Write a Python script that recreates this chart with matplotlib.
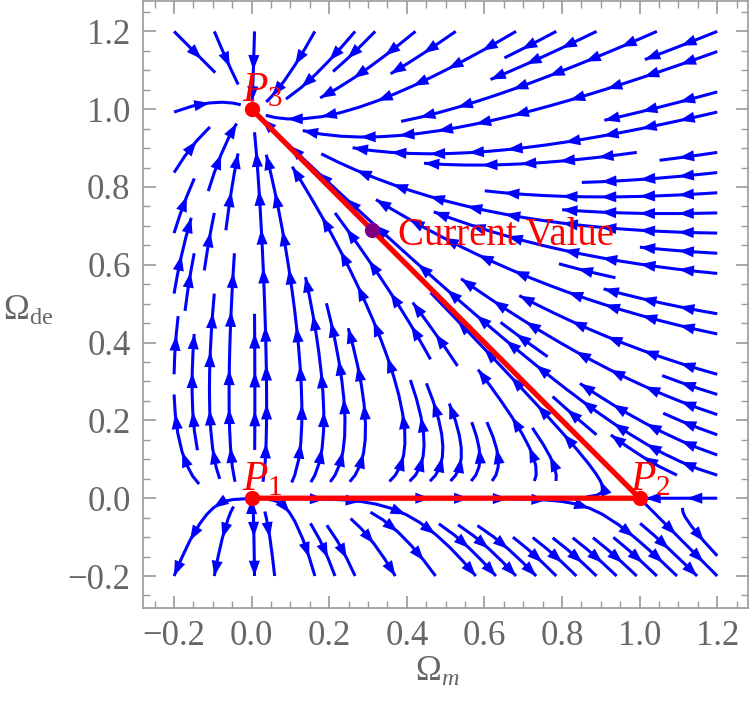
"""Phase portrait of the radiation / matter / dark-energy system"""
import numpy as np
import matplotlib.pyplot as plt
from matplotlib.patches import FancyArrowPatch

# fixed points and labels
fixed_names = ['$P_1$', '$P_2$', '$P_3$']
fixed_x = [0.0, 1.0, 0.0]
fixed_y = [0.0, 0.0, 1.0]
current_x, current_y = 0.31, 0.69
current_label = 'Current Value'
ticks = [-0.2, 0.0, 0.2, 0.4, 0.6, 0.8, 1.0, 1.2]


def flow(om, ode):
    # radiation fills the rest: Omega_r = 1 - Omega_m - Omega_de
    dm = om * (1 - om - 4 * ode)
    dde = ode * (4 - om - 4 * ode)
    return dm, dde


def chain(segs):
    """join streamplot segments back into whole lines (if they come split)"""
    segs = [np.asarray(sg) for sg in segs]
    if any(len(sg) > 2 for sg in segs):
        return segs
    lines, cur = [], [segs[0][0], segs[0][1]]
    for a, b in zip(segs[:-1], segs[1:]):
        if np.allclose(a[1], b[0]):
            cur.append(b[1])
        else:
            lines.append(np.array(cur))
            cur = [b[0], b[1]]
    lines.append(np.array(cur))
    return lines


plt.rcParams['font.family'] = ['Liberation Serif', 'DejaVu Serif']
plt.rcParams['mathtext.fontset'] = 'custom'
plt.rcParams['mathtext.rm'] = 'Liberation Serif'
plt.rcParams['mathtext.it'] = 'Liberation Serif:italic'

fig = plt.figure(figsize=(7.5, 7.11), dpi=100)
ax = fig.add_axes([0.1907, 0.145, 0.807, 0.853])

g = np.linspace(-0.2, 1.2, 200)
X, Y = np.meshgrid(g, g)
U, V = flow(X, Y)
sp = ax.streamplot(X, Y, U, V, density=0.95, color='#0000ff', linewidth=2.2,
                   arrowstyle='-', arrowsize=0.1)
for p in list(ax.patches):
    p.remove()

# Mathematica style: several arrowheads along each stream line
step = 0.11
for ln in chain(sp.lines.get_segments()):
    s = np.concatenate([[0], np.cumsum(np.hypot(*np.diff(ln, axis=0).T))])
    if s[-1] < 0.05:
        continue
    for pos in np.arange(min(step * 0.6, s[-1] * 0.5), s[-1], step):
        i = min(np.searchsorted(s, pos), len(ln) - 1)
        i = max(i, 1)
        d = ln[i] - ln[i - 1]
        n = np.hypot(*d)
        if n == 0:
            continue
        tip = ln[i]
        tail = tip - d / n * 0.02
        ax.add_patch(FancyArrowPatch(tail, tip, arrowstyle='-|>,head_length=0.55,head_width=0.2',
                                     mutation_scale=20, color='#0000ff', lw=0,
                                     shrinkA=0, shrinkB=0, zorder=3))

# triangle of physical region
ax.plot([fixed_x[0], fixed_x[1], fixed_x[2]], [fixed_y[0], fixed_y[1], fixed_y[2]],
        color='red', lw=3.8, zorder=5, solid_capstyle='round')
ax.plot(fixed_x, fixed_y, 'o', color='red', ms=10, zorder=6)
for name, x, y in zip(fixed_names, fixed_x, fixed_y):
    ax.text(x - 0.026, y + 0.02, name, color='red', fontsize=30,
            ha='left', va='baseline', zorder=7)

ax.plot(current_x, current_y, 'o', color='#800080', ms=10, zorder=6)
ax.text(current_x + 0.066, current_y - 0.04, current_label, color='red',
        fontsize=28, ha='left', va='baseline', zorder=7)

ax.set_xlim(-0.28, 1.28)
ax.set_ylim(-0.282, 1.277)
ax.set_xticks(ticks)
ax.set_yticks(ticks)
ax.set_xticks(np.arange(-0.25, 1.26, 0.05), minor=True)
ax.set_yticks(np.arange(-0.25, 1.26, 0.05), minor=True)
ax.xaxis.set_major_formatter(plt.FuncFormatter(lambda v, p: f'{v:.1f}'.replace('-', '\u2212')))
ax.yaxis.set_major_formatter(plt.FuncFormatter(lambda v, p: f'{v:.1f}'.replace('-', '\u2212')))
ax.tick_params(which='both', direction='in', top=True, right=True,
               color='#999999', labelcolor='#666666', labelsize=25, pad=9)
ax.tick_params(which='major', length=9, width=1.2)
ax.tick_params(which='minor', length=5, width=1.0)
for s in ax.spines.values():
    s.set_color('#999999')
    s.set_linewidth(1.2)

fig.text(0.583, 0.055, r'$\Omega_m$', fontsize=25, color='#666666', ha='center', va='center')
fig.text(0.004, 0.562, r'$\Omega_{\rm de}$', fontsize=25, color='#666666', ha='left', va='center')

plt.savefig('out.png', dpi=100, facecolor='white')
plt.close()
